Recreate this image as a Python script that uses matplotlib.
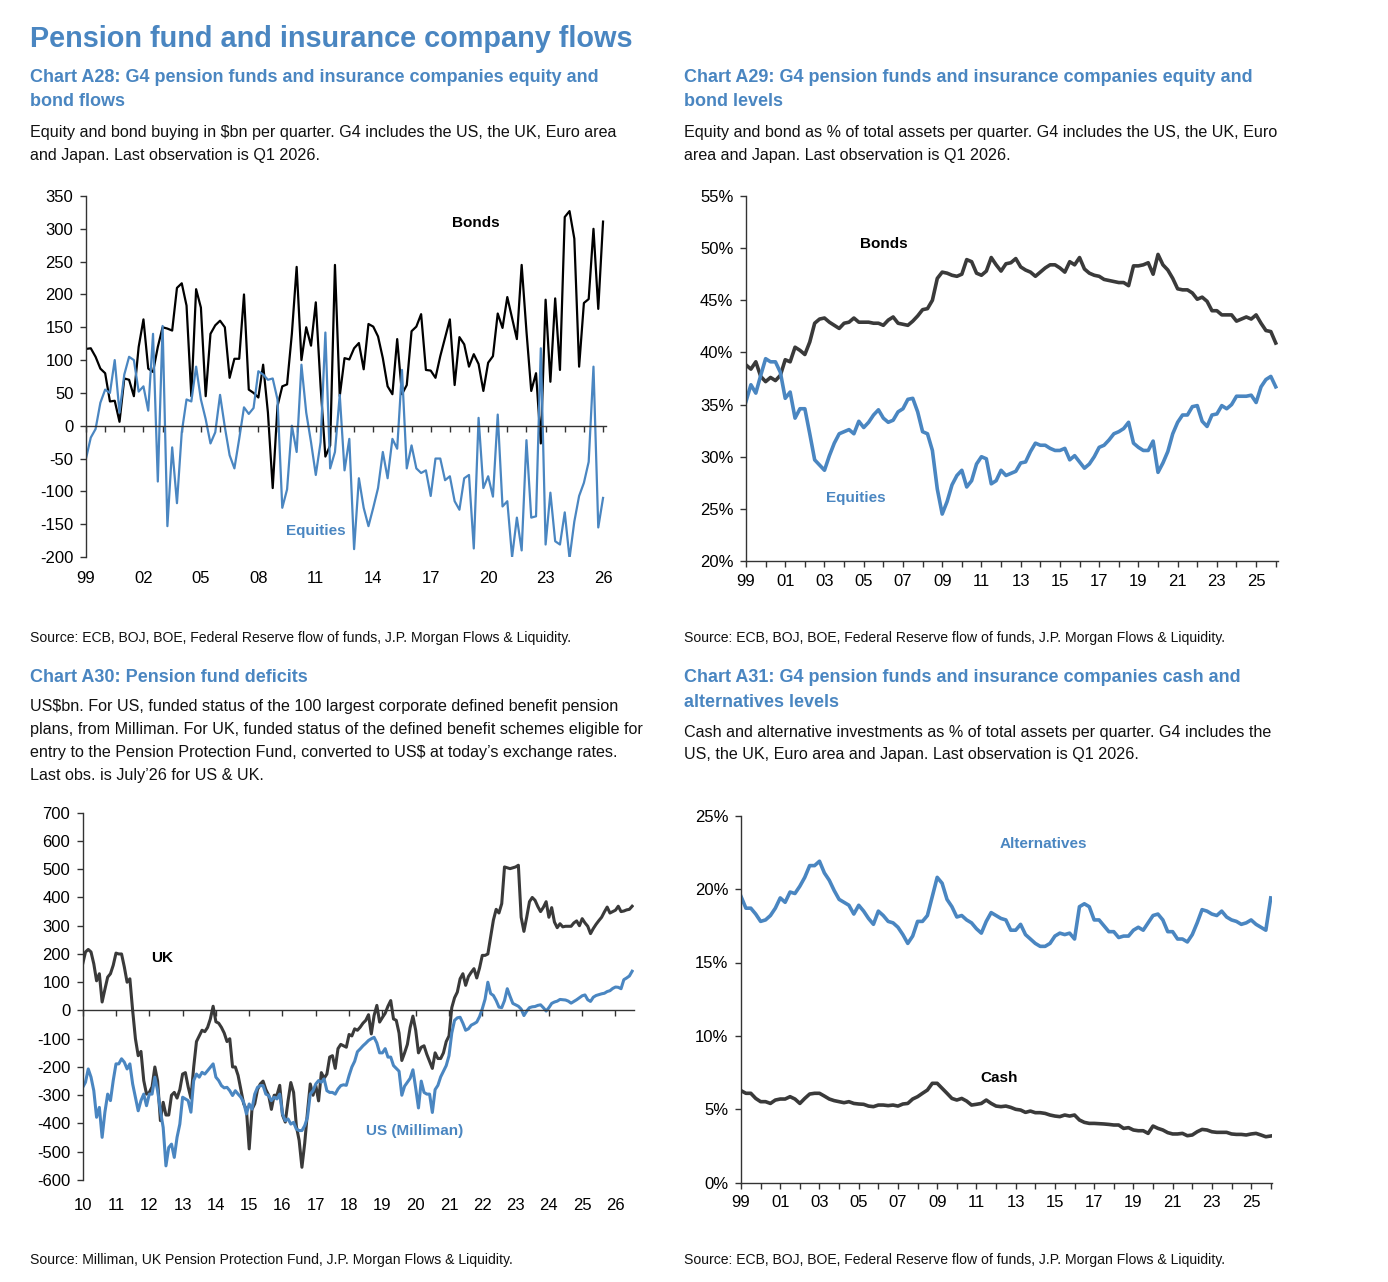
import numpy as np
import matplotlib
matplotlib.use("Agg")
import matplotlib.pyplot as plt
from matplotlib.ticker import FuncFormatter

# Fonts / colours
FONT = ['Liberation Sans', 'DejaVu Sans']
BLUE = '#4a86c1'
DARK = '#3a3a3a'

plt.rcParams['font.family'] = FONT
plt.rcParams['font.size'] = 12
plt.rcParams['axes.unicode_minus'] = False

W, H = 1388, 1282

# ---------------- data ----------------
# Chart A28: quarterly flows, $bn, Q1 1999 .. Q1 2026
a28_bonds = [117, 118, 105, 87, 80, 37, 38, 6, 72, 70,
             45, 120, 162, 87, 82, 120, 150, 148, 145, 210,
             217, 183, 45, 208, 180, 45, 140, 153, 160, 150,
             73, 102, 102, 200, 55, 50, 43, 93, 20, -95,
             30, 60, 63, 140, 242, 100, 150, 122, 188, 60,
             -47, -30, 245, 45, 103, 101, 118, 126, 86, 155,
             151, 136, 103, 60, 48, 132, 48, 62, 144, 151,
             170, 85, 84, 73, 106, 134, 162, 62, 135, 124,
             90, 109, 94, 53, 96, 106, 171, 149, 196, 164,
             132, 245, 144, 53, 80, -27, 192, 67, 194, 85,
             318, 327, 285, 90, 187, 193, 300, 178, 311]
a28_equities = [-50, -18, -5, 35, 55, 50, 100, 20, 78, 105,
                100, 52, 60, 23, 140, -85, 152, -153, -33, -118,
                -10, 40, 37, 90, 40, 10, -27, -10, 47, -2,
                -45, -65, -20, 28, 18, 27, 83, 78, 70, 72,
                40, -125, -97, 0, -40, 93, 20, -25, -75, -25,
                142, -65, -40, 47, -68, -20, -188, -80, -125, -153,
                -125, -95, -40, -80, -20, -35, 85, -65, -30, -65,
                -72, -68, -107, -50, -50, -83, -77, -115, -128, -80,
                -75, -187, 12, -95, -77, -108, 17, -123, -115, -200,
                -140, -190, -22, -140, -138, 118, -181, -102, -176, -181,
                -132, -202, -146, -107, -87, -55, 90, -155, -110]

# Chart A29: % of total assets, Q1 1999 .. Q1 2026
a29_bonds = [38.8, 38.4, 39.1, 37.7, 37.2, 37.6, 37.3, 37.8, 39.3, 39.1,
             40.5, 40.2, 39.8, 41.0, 42.8, 43.2, 43.3, 42.9, 42.6, 42.3,
             42.8, 42.9, 43.3, 42.9, 42.9, 42.9, 42.8, 42.8, 42.6, 43.1,
             43.4, 42.8, 42.7, 42.6, 43.0, 43.5, 44.1, 44.2, 45.0, 47.1,
             47.7, 47.6, 47.4, 47.3, 47.5, 48.9, 48.7, 47.6, 47.4, 47.8,
             49.1, 48.4, 47.8, 48.5, 48.6, 49.0, 48.2, 47.9, 47.7, 47.3,
             47.7, 48.1, 48.4, 48.4, 48.1, 47.7, 48.7, 48.4, 49.1, 48.0,
             47.6, 47.4, 47.3, 47.0, 46.9, 46.8, 46.7, 46.7, 46.4, 48.3,
             48.3, 48.4, 48.6, 47.5, 49.4, 48.4, 47.9, 47.1, 46.1, 46.0,
             46.0, 45.7, 45.1, 45.3, 44.9, 44.0, 44.0, 43.6, 43.6, 43.6,
             43.0, 43.2, 43.4, 43.2, 43.6, 42.8, 42.1, 42.0, 40.9]
a29_equities = [35.3, 36.9, 36.1, 37.8, 39.4, 39.1, 39.1, 38.1, 35.6, 36.2,
                33.7, 34.6, 34.6, 32.2, 29.7, 29.2, 28.7, 30.1, 31.3, 32.2,
                32.4, 32.6, 32.2, 33.4, 32.8, 33.3, 34.0, 34.5, 33.7, 33.3,
                33.5, 34.3, 34.6, 35.5, 35.6, 34.3, 32.4, 32.2, 30.6, 26.9,
                24.5, 25.7, 27.3, 28.2, 28.7, 27.1, 27.7, 29.3, 30.0, 29.8,
                27.4, 27.7, 28.7, 28.2, 28.4, 28.6, 29.4, 29.5, 30.5, 31.3,
                31.1, 31.1, 30.8, 30.6, 30.6, 30.8, 29.7, 30.1, 29.5, 28.9,
                29.3, 30.0, 30.9, 31.1, 31.6, 32.2, 32.4, 32.7, 33.3, 31.3,
                30.9, 30.6, 30.6, 31.5, 28.5, 29.4, 30.5, 32.2, 33.3, 34.0,
                34.0, 34.8, 34.9, 33.4, 32.9, 34.0, 34.1, 34.9, 34.6, 35.0,
                35.8, 35.8, 35.8, 35.9, 35.2, 36.7, 37.4, 37.7, 36.7]

# Chart A30: monthly funded status, US$bn, Jan 2010 .. Jul 2026
a30_uk = [165, 207, 216, 207, 165, 105, 130, 30, 75, 118, 130, 160,
          203, 200, 200, 154, 100, 112, 0, -100, -160, -145, -248, -296,
          -290, -270, -200, -250, -390, -325, -370, -370, -300, -290, -310, -280,
          -225, -220, -270, -310, -200, -110, -90, -70, -75, -60, -30, 15,
          -40, -45, -60, -80, -110, -100, -200, -200, -230, -280, -330, -350,
          -490, -350, -330, -280, -260, -250, -280, -300, -350, -300, -300, -265,
          -370, -395, -320, -255, -290, -410, -460, -555, -470, -360, -260, -300,
          -265, -320, -220, -240, -225, -165, -160, -205, -135, -120, -125, -130,
          -85, -90, -65, -70, -59, -45, -35, -15, -83, -18, 18, -41,
          -25, -10, 15, 35, -30, -35, -80, -177, -150, -120, -60, -20,
          -70, -150, -130, -125, -155, -180, -205, -150, -170, -170, -150, -110,
          -90, 10, 45, 65, 112, 130, 89, 120, 135, 148, 115, 150,
          195, 195, 200, 260, 320, 358, 345, 378, 508, 505, 502, 505,
          508, 514, 330, 280, 330, 385, 400, 390, 368, 350, 365, 385,
          330, 364, 313, 293, 307, 296, 298, 298, 298, 310, 317, 300,
          325, 310, 298, 272, 290, 305, 318, 330, 349, 366, 345, 350,
          355, 369, 350, 352, 356, 358, 369]
a30_us = [-272, -254, -207, -236, -284, -378, -343, -449, -360, -296, -319, -248,
          -189, -189, -171, -183, -207, -189, -260, -307, -355, -319, -296, -337,
          -296, -296, -236, -284, -355, -414, -550, -485, -473, -520, -449, -402,
          -307, -313, -319, -360, -248, -225, -236, -219, -225, -213, -201, -189,
          -236, -248, -266, -274, -272, -284, -301, -284, -296, -307, -325, -366,
          -331, -349, -296, -272, -266, -266, -296, -301, -319, -307, -313, -296,
          -366, -390, -384, -402, -396, -420, -425, -425, -408, -378, -296, -284,
          -260, -248, -254, -242, -284, -290, -290, -296, -278, -266, -263, -265,
          -230, -200, -180, -146, -136, -125, -116, -106, -100, -95, -115, -150,
          -150, -135, -165, -165, -195, -205, -215, -300, -268, -254, -240, -210,
          -275, -345, -250, -290, -296, -296, -361, -280, -265, -235, -215, -195,
          -160, -80, -35, -26, -24, -45, -70, -65, -52, -47, -41, -22,
          6, 40, 100, 60, 53, 35, 12, 10, 35, 77, 50, 25,
          20, 15, 5, -18, -2, 10, 13, 14, 18, 20, 10, -2,
          10, 25, 30, 33, 39, 38, 37, 33, 26, 32, 38, 45,
          52, 55, 38, 32, 47, 53, 56, 59, 61, 67, 70, 78,
          83, 82, 77, 109, 115, 122, 139]

# Chart A31: % of total assets, Q1 1999 .. Q1 2026
a31_alts = [19.5, 18.7, 18.7, 18.3, 17.8, 17.9, 18.2, 18.7, 19.4, 19.1,
            19.8, 19.7, 20.2, 20.8, 21.6, 21.6, 21.9, 21.1, 20.6, 19.9,
            19.3, 19.1, 18.9, 18.3, 18.9, 18.5, 18.0, 17.6, 18.5, 18.2,
            17.8, 17.7, 17.4, 16.9, 16.3, 16.8, 17.8, 17.8, 18.2, 19.5,
            20.8, 20.4, 19.3, 18.8, 18.1, 18.2, 17.9, 17.7, 17.3, 17.0,
            17.8, 18.4, 18.2, 18.0, 17.9, 17.2, 17.2, 17.6, 16.9, 16.6,
            16.3, 16.1, 16.1, 16.3, 16.8, 17.0, 16.9, 17.0, 16.6, 18.8,
            19.0, 18.8, 17.9, 17.9, 17.5, 17.1, 17.1, 16.7, 16.8, 16.8,
            17.2, 17.4, 17.2, 17.7, 18.2, 18.3, 17.9, 17.1, 17.1, 16.6,
            16.6, 16.4, 16.9, 17.7, 18.6, 18.5, 18.3, 18.2, 18.5, 18.1,
            17.9, 17.8, 17.6, 17.7, 17.9, 17.6, 17.4, 17.2, 19.4]
a31_cash = [6.27, 6.09, 6.09, 5.74, 5.52, 5.52, 5.40, 5.63, 5.70, 5.70,
            5.86, 5.70, 5.40, 5.74, 6.04, 6.09, 6.09, 5.90, 5.70, 5.59,
            5.52, 5.45, 5.52, 5.40, 5.36, 5.34, 5.22, 5.18, 5.29, 5.29,
            5.25, 5.29, 5.22, 5.36, 5.40, 5.70, 5.86, 6.09, 6.31, 6.77,
            6.77, 6.43, 6.09, 5.74, 5.63, 5.74, 5.56, 5.29, 5.34, 5.40,
            5.63, 5.40, 5.22, 5.18, 5.22, 5.13, 5.00, 4.95, 4.79, 4.88,
            4.77, 4.77, 4.72, 4.61, 4.54, 4.50, 4.61, 4.54, 4.61, 4.27,
            4.11, 4.04, 4.04, 4.02, 4.00, 3.97, 3.93, 3.93, 3.70, 3.75,
            3.59, 3.54, 3.54, 3.36, 3.86, 3.70, 3.59, 3.41, 3.32, 3.32,
            3.36, 3.20, 3.25, 3.47, 3.63, 3.59, 3.47, 3.43, 3.43, 3.43,
            3.32, 3.29, 3.29, 3.25, 3.32, 3.36, 3.25, 3.13, 3.18]

for s in (a28_bonds, a28_equities, a29_bonds, a29_equities, a31_alts, a31_cash):
    assert len(s) == 109, len(s)
for s in (a30_uk, a30_us):
    assert len(s) == 199, len(s)

qx = 1999 + np.arange(109) / 4.0     # quarterly dates
mx = 2010 + np.arange(199) / 12.0    # monthly dates

# ---------------- text ----------------
page_title = 'Pension fund and insurance company flows'
a28_title = ['Chart A28: G4 pension funds and insurance companies equity and', 'bond flows']
a28_note = ['Equity and bond buying in $bn per quarter. G4 includes the US, the UK, Euro area',
            'and Japan. Last observation is Q1 2026.']
a29_title = ['Chart A29: G4 pension funds and insurance companies equity and', 'bond levels']
a29_note = ['Equity and bond as % of total assets per quarter. G4 includes the US, the UK, Euro',
            'area and Japan. Last observation is Q1 2026.']
a30_title = ['Chart A30: Pension fund deficits']
a30_note = ['US$bn. For US, funded status of the 100 largest corporate defined benefit pension',
            'plans, from Milliman. For UK, funded status of the defined benefit schemes eligible for',
            'entry to the Pension Protection Fund, converted to US$ at today\u2019s exchange rates.',
            'Last obs. is July\u201926 for US & UK.']
a31_title = ['Chart A31: G4 pension funds and insurance companies cash and', 'alternatives levels']
a31_note = ['Cash and alternative investments as % of total assets per quarter. G4 includes the',
            'US, the UK, Euro area and Japan. Last observation is Q1 2026.']
src_fof = 'Source: ECB, BOJ, BOE, Federal Reserve flow of funds, J.P. Morgan Flows & Liquidity.'
src_mil = 'Source: Milliman, UK Pension Protection Fund, J.P. Morgan Flows & Liquidity.'

SUB = 13.0     # chart titles
NOTE = 11.6    # descriptions
SRC = 10.1     # sources
LAB = 11       # in-chart labels
TICK = 12


def fx(x):
    return x / W


def fy(y):
    return 1 - y / H


def put(x, y, s, **kw):
    fig.text(fx(x), fy(y), s, va='center', ha=kw.pop('ha', 'left'), **kw)


def block(x, y0, lines, step, **kw):
    for i, s in enumerate(lines):
        put(x, y0 + i * step, s, **kw)


def make_ax(l, t, r, b):
    return fig.add_axes([fx(l), fy(b), fx(r - l), (b - t) / H])


def style(ax):
    for side in ('top', 'right'):
        ax.spines[side].set_visible(False)
    for side in ('left', 'bottom'):
        ax.spines[side].set_linewidth(1.0)
        ax.spines[side].set_color('#333333')
    ax.tick_params(axis='both', which='both', direction='out', length=4, width=1.0,
                   color='#333333', labelsize=TICK, pad=5)


fig = plt.figure(figsize=(W / 100, H / 100), dpi=100)

# header texts
put(30, 39, page_title, fontsize=20.8, fontweight='bold', color=BLUE)
block(30, 77, a28_title, 25, fontsize=SUB, fontweight='bold', color=BLUE)
block(684, 77, a29_title, 25, fontsize=SUB, fontweight='bold', color=BLUE)
block(30, 133, a28_note, 22.5, fontsize=NOTE, color='#111111')
block(684, 133, a29_note, 22.5, fontsize=NOTE, color='#111111')
put(30, 638, src_fof, fontsize=SRC, color='#111111')
put(684, 638, src_fof, fontsize=SRC, color='#111111')
block(30, 677, a30_title, 25, fontsize=SUB, fontweight='bold', color=BLUE)
block(684, 677, a31_title, 25, fontsize=SUB, fontweight='bold', color=BLUE)
block(30, 707, a30_note, 22.7, fontsize=NOTE, color='#111111')
block(684, 732, a31_note, 22.7, fontsize=NOTE, color='#111111')
put(30, 1260, src_mil, fontsize=SRC, color='#111111')
put(684, 1260, src_fof, fontsize=SRC, color='#111111')

# ---------------- A28 ----------------
ax = make_ax(86, 196, 606, 557)
style(ax)
ax.plot(qx, a28_bonds, color='black', lw=1.6)
ax.plot(qx, a28_equities, color=BLUE, lw=1.6)
ax.set_ylim(-200, 350)
ax.set_xlim(1999, 1999 + 520 / 19.15)
ax.set_yticks(np.arange(-200, 351, 50))
ax.spines['bottom'].set_position(('data', 0))
ax.set_xticks(np.arange(1999, 2027))
ax.tick_params(axis='x', labelbottom=False)
sec = ax.secondary_xaxis('bottom')
sec.set_xticks(np.arange(1999, 2027, 3))
sec.set_xticklabels(['%02d' % (y % 100) for y in range(1999, 2027, 3)])
sec.tick_params(length=0, labelsize=TICK, pad=10)
sec.spines['bottom'].set_visible(False)
put(476, 223, 'Bonds', fontsize=LAB, fontweight='bold', color='black', ha='center')
put(316, 531, 'Equities', fontsize=LAB, fontweight='bold', color=BLUE, ha='center')

# ---------------- A29 ----------------
ax = make_ax(746, 196, 1278, 561)
style(ax)
ax.plot(qx, a29_bonds, color=DARK, lw=2.6)
ax.plot(qx, a29_equities, color=BLUE, lw=2.6)
ax.set_ylim(20, 55)
ax.set_xlim(1999, 1999 + 532 / 19.62)
ax.set_yticks(np.arange(20, 56, 5))
ax.yaxis.set_major_formatter(FuncFormatter(lambda v, p: '%d%%' % v))
ax.set_xticks(np.arange(1999, 2027, 2))
ax.set_xticklabels(['%02d' % (y % 100) for y in range(1999, 2027, 2)])
ax.set_xticks(np.arange(1999, 2027), minor=True)
put(884, 244, 'Bonds', fontsize=LAB, fontweight='bold', color='black', ha='center')
put(856, 498, 'Equities', fontsize=LAB, fontweight='bold', color=BLUE, ha='center')

# ---------------- A30 ----------------
ax = make_ax(82.7, 812.7, 634, 1180)
style(ax)
ax.plot(mx, a30_uk, color=DARK, lw=2.2)
ax.plot(mx, a30_us, color=BLUE, lw=2.2)
ax.set_ylim(-600, 700)
ax.set_xlim(2010, 2010 + (634 - 82.7) / 33.3)
ax.set_yticks(np.arange(-600, 701, 100))
ax.spines['bottom'].set_position(('data', 0))
ax.set_xticks(np.arange(2010, 2027))
ax.tick_params(axis='x', labelbottom=False)
sec = ax.secondary_xaxis('bottom')
sec.set_xticks(np.arange(2010, 2027))
sec.set_xticklabels(['%02d' % (y % 100) for y in range(2010, 2027)])
sec.tick_params(length=0, labelsize=TICK, pad=13)
sec.spines['bottom'].set_visible(False)
put(162, 958, 'UK', fontsize=LAB, fontweight='bold', color='black', ha='center')
put(415, 1131, 'US (Milliman)', fontsize=LAB, fontweight='bold', color=BLUE, ha='center')

# ---------------- A31 ----------------
ax = make_ax(741, 815.7, 1272, 1182.7)
style(ax)
ax.plot(qx, a31_alts, color=BLUE, lw=2.6)
ax.plot(qx, a31_cash, color=DARK, lw=2.6)
ax.set_ylim(0, 25)
ax.set_xlim(1999, 1999 + 531 / 19.62)
ax.set_yticks(np.arange(0, 26, 5))
ax.yaxis.set_major_formatter(FuncFormatter(lambda v, p: '%d%%' % v))
ax.set_xticks(np.arange(1999, 2027, 2))
ax.set_xticklabels(['%02d' % (y % 100) for y in range(1999, 2027, 2)])
ax.set_xticks(np.arange(1999, 2027), minor=True)
put(1043, 844, 'Alternatives', fontsize=LAB, fontweight='bold', color=BLUE, ha='center')
put(999, 1078, 'Cash', fontsize=LAB, fontweight='bold', color='black', ha='center')

fig.savefig('out.png', dpi=100)
